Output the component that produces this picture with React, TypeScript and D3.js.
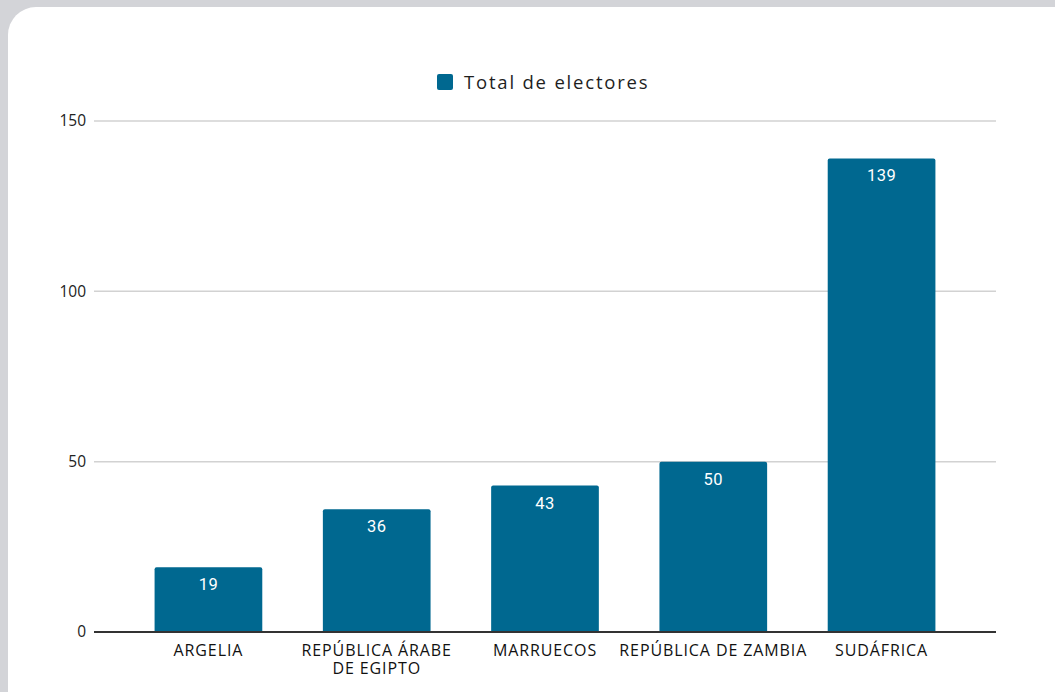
import { useMemo } from "react"
import * as d3 from "d3"

const categories = [
  ["ARGELIA"],
  ["REPÚBLICA ÁRABE", "DE EGIPTO"],
  ["MARRUECOS"],
  ["REPÚBLICA DE ZAMBIA"],
  ["SUDÁFRICA"],
]
const electores = [19, 36, 43, 50, 139]
const yTicks = [0, 50, 100, 150]
const seriesName = "Total de electores"

const W = 1055
const H = 692
const barColor = "#006890"
const font = "'Open Sans', 'Noto Sans', sans-serif"

export default function App() {
  const x = useMemo(
    () =>
      d3
        .scaleBand<number>()
        .domain(d3.range(categories.length))
        .range([94, 996])
        .padding(0.36),
    []
  )
  const y = useMemo(() => d3.scaleLinear().domain([0, 150]).range([632, 121]), [])

  return (
    <svg
      width={W}
      height={H}
      style={{ position: "absolute", left: 0, top: 0, display: "block" }}
    >
      <rect x={0} y={0} width={W} height={H} fill="#d3d4d8" />
      <rect x={8} y={7} width={1080} height={720} rx={28} fill="#ffffff" />

      {/* legend */}
      <rect x={437} y={74} width={16} height={16} rx={2} fill={barColor} />
      <text
        x={464}
        y={89}
        fontFamily={font}
        fontSize={18.5}
        letterSpacing={1.8}
        fill="#1e1e1e"
      >
        {seriesName}
      </text>

      {/* grid + y ticks */}
      {yTicks.map((t) => (
        <g key={t}>
          {t !== 0 && (
            <line x1={94} x2={996} y1={y(t)} y2={y(t)} stroke="#d2d2d2" strokeWidth={1.5} />
          )}
          <text
            x={86}
            y={y(t)}
            dy="0.35em"
            textAnchor="end"
            fontFamily={font}
            fontSize={15.5}
            fill="#222"
          >
            {t}
          </text>
        </g>
      ))}

      {/* bars */}
      {electores.map((v, i) => {
        const bx = x(i) || 0
        const top = y(v)
        const h = y(0) - top
        const r = 2
        const bw = x.bandwidth()
        const path = `M${bx},${y(0)} V${top + r} Q${bx},${top} ${bx + r},${top} H${bx + bw - r} Q${bx + bw},${top} ${bx + bw},${top + r} V${y(0)} Z`
        return (
          <g key={i}>
            <path d={path} fill={barColor} />
            {h > 0 && (
              <text
                x={bx + bw / 2}
                y={top + 23}
                textAnchor="middle"
                fontFamily="Roboto, sans-serif"
                fontSize={16.5}
                letterSpacing={0.4}
                fill="#ffffff"
              >
                {v}
              </text>
            )}
          </g>
        )
      })}

      {/* x axis */}
      <line x1={94} x2={996} y1={y(0)} y2={y(0)} stroke="#333" strokeWidth={2} />
      {categories.map((lines, i) => (
        <text
          key={i}
          x={(x(i) || 0) + x.bandwidth() / 2}
          y={656}
          textAnchor="middle"
          fontFamily={font}
          fontSize={16}
          letterSpacing={0.9}
          fill="#111"
        >
          {lines.map((l, j) => (
            <tspan key={j} x={(x(i) || 0) + x.bandwidth() / 2} dy={j === 0 ? 0 : 18}>
              {l}
            </tspan>
          ))}
        </text>
      ))}
    </svg>
  )
}
